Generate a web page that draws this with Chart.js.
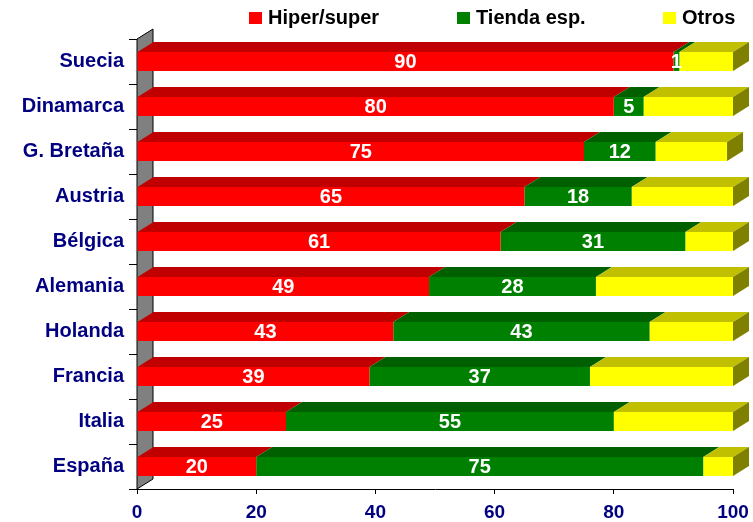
<!DOCTYPE html>
<html>
<head>
<meta charset="utf-8">
<script src="https://cdn.jsdelivr.net/npm/chart.js@4"></script>
<style>
  html, body { margin: 0; padding: 0; background: #fff; }
  #wrap { width: 753px; height: 522px; }
</style>
</head>
<body>
<div id="wrap"><canvas id="chart"></canvas></div>
<script>
// data
const countries = ['Suecia','Dinamarca','G. Bretaña','Austria','Bélgica','Alemania','Holanda','Francia','Italia','España']
const hiperSuper = [90, 80, 75, 65, 61, 49, 43, 39, 25, 20]
const tiendaEsp = [1, 5, 12, 18, 31, 28, 43, 37, 55, 75]
const otros = [9, 15, 12, 17, 8, 23, 14, 24, 20, 5]
const seriesNames = ['Hiper/super', 'Tienda esp.', 'Otros']
const xTicks = [0, 20, 40, 60, 80, 100]

// look
const FONT = '"Liberation Sans", Arial, sans-serif'
const NAVY = '#000080'
const frontColors = ['#FF0000', '#008000', '#FFFF00']
const topColors = ['#C00000', '#006000', '#C0C000']
const sideColors = ['#800000', '#004000', '#808000']
const DX = 16, DY = 10

// fake 3d: back wall, bar tops and sides, labels, legend
const depthPlugin = {
    id: 'depth3d',
    beforeDatasetsDraw(chart){
        const a = chart.chartArea
        const ctx = chart.ctx
        ctx.save()
        ctx.beginPath()
        ctx.moveTo(a.left, a.bottom)
        ctx.lineTo(a.left, a.top)
        ctx.lineTo(a.left + DX, a.top - DY)
        ctx.lineTo(a.left + DX, a.bottom - DY)
        ctx.closePath()
        ctx.fillStyle = '#808080'
        ctx.fill()
        ctx.strokeStyle = '#000'
        ctx.lineWidth = 1
        ctx.stroke()
        ctx.restore()
    },
    afterDatasetsDraw(chart){
        const ctx = chart.ctx
        const n = chart.data.datasets.length
        ctx.save()
        for(let i=0;i<n;i++){
            const meta = chart.getDatasetMeta(i)
            meta.data.forEach(function(el){
                const p = el.getProps(['x','y','base','height'], true)
                const y0 = p.y - p.height/2
                ctx.beginPath()
                ctx.moveTo(p.base, y0)
                ctx.lineTo(p.x, y0)
                ctx.lineTo(p.x + DX, y0 - DY)
                ctx.lineTo(p.base + DX, y0 - DY)
                ctx.closePath()
                ctx.fillStyle = topColors[i]
                ctx.fill()
                if(i == n-1){
                    ctx.beginPath()
                    ctx.moveTo(p.x, y0)
                    ctx.lineTo(p.x + DX, y0 - DY)
                    ctx.lineTo(p.x + DX, y0 - DY + p.height)
                    ctx.lineTo(p.x, y0 + p.height)
                    ctx.closePath()
                    ctx.fillStyle = sideColors[i]
                    ctx.fill()
                }
            })
        }
        // value labels on the first two series
        ctx.fillStyle = '#fff'
        ctx.font = 'bold 20px ' + FONT
        ctx.textAlign = 'center'
        ctx.textBaseline = 'middle'
        for(let i=0;i<2;i++){
            const meta = chart.getDatasetMeta(i)
            const vals = chart.data.datasets[i].data
            meta.data.forEach(function(el, j){
                const p = el.getProps(['x','y','base'], true)
                ctx.fillText(String(vals[j]), (p.x + p.base)/2, p.y + 1)
            })
        }
        ctx.restore()
    },
    afterDraw(chart){
        const ctx = chart.ctx
        const boxX = [249, 457, 663]
        ctx.save()
        ctx.font = 'bold 20px ' + FONT
        ctx.textBaseline = 'middle'
        ctx.textAlign = 'left'
        chart.data.datasets.forEach(function(ds, i){
            ctx.fillStyle = ds.backgroundColor
            ctx.fillRect(boxX[i], 12, 13, 12)
            ctx.fillStyle = '#000'
            ctx.fillText(ds.label, boxX[i] + 19, 18.5)
        })
        ctx.restore()
    }
}

const ctx = document.getElementById('chart').getContext('2d')
const myChart = new Chart(ctx, {
    type: 'bar',
    data: {
        labels: countries,
        datasets: [
            { label: seriesNames[0], data: hiperSuper, backgroundColor: frontColors[0] },
            { label: seriesNames[1], data: tiendaEsp, backgroundColor: frontColors[1] },
            { label: seriesNames[2], data: otros, backgroundColor: frontColors[2] }
        ]
    },
    options: {
        indexAxis: 'y',
        responsive: true,
        maintainAspectRatio: false,
        animation: false,
        devicePixelRatio: 1,
        layout: { padding: { top: 39, right: 20, bottom: 0, left: 0 } },
        datasets: {
            bar: { categoryPercentage: 1, barPercentage: 0.42, borderWidth: 0 }
        },
        plugins: {
            legend: { display: false },
            tooltip: { enabled: false }
        },
        scales: {
            x: {
                stacked: true,
                min: 0,
                max: 100,
                afterFit: function(scale){
                    scale.height = 33
                    scale.paddingLeft = 0
                    scale.paddingRight = 0
                },
                afterBuildTicks: function(scale){ scale.ticks = xTicks.map(v => ({ value: v })) },
                grid: { drawOnChartArea: false, color: '#000', tickLength: 5 },
                border: { color: '#000' },
                ticks: { color: NAVY, font: { family: FONT, size: 19, weight: 'bold' }, padding: 7, maxRotation: 0 }
            },
            y: {
                stacked: true,
                afterFit: function(scale){ scale.width = 137 },
                grid: { drawOnChartArea: false, color: '#000', tickLength: 8, offset: true },
                border: { color: '#000' },
                ticks: { color: NAVY, font: { family: FONT, size: 20, weight: 'bold' }, padding: 5 }
            }
        }
    },
    plugins: [depthPlugin]
});
</script>
</body>
</html>
